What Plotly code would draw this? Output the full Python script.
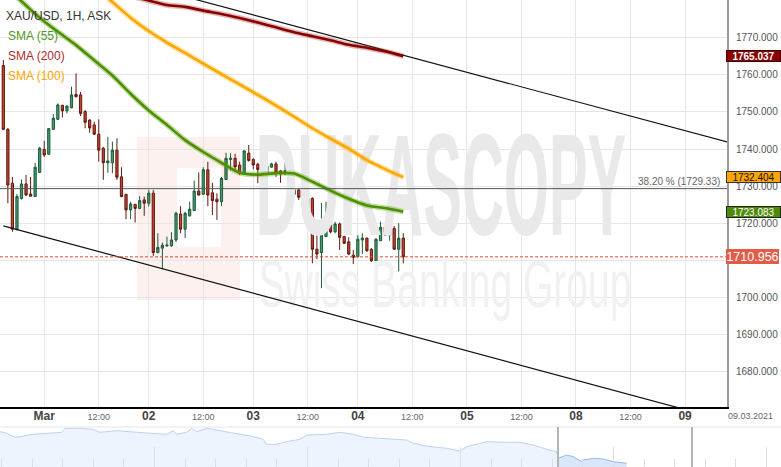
import plotly.graph_objects as go

# ---------------- data ----------------
bar_index = list(range(89))          # hourly bars, 0 = first bar on screen
opens = [1762.5, 1745.3, 1730.8, 1718.4, 1726.7, 1730.6, 1727.9, 1727.2, 1733.7, 1739.9,
         1738.6, 1745.3, 1748.0, 1751.8, 1750.3, 1751.1, 1754.7, 1754.6, 1750.1, 1747.8,
         1746.5, 1744.0, 1740.2, 1736.3, 1736.3, 1739.7, 1732.5, 1727.8, 1723.6, 1725.1,
         1724.0, 1726.3, 1725.4, 1728.1, 1712.1, 1713.3, 1713.9, 1713.9, 1715.5, 1722.5,
         1718.4, 1722.0, 1723.4, 1728.7, 1727.8, 1734.4, 1728.2, 1726.5, 1725.8, 1731.8,
         1737.2, 1737.5, 1735.7, 1733.6, 1738.9, 1737.2, 1735.9, 1734.8, 1733.3, 1735.1,
         1736.0, 1734.1, 1733.3, 1734.3, 1727.8, 1729.0, 1727.3, 1724.6, 1726.7, 1713.0,
         1712.1, 1716.4, 1719.5, 1717.7, 1719.8, 1716.4, 1715.0, 1711.4, 1711.0, 1715.5,
         1716.0, 1713.0, 1709.9, 1715.3, 1718.9, 1716.8, 1718.6, 1713.0, 1716.0]
highs = [1764.0, 1745.7, 1732.5, 1727.9, 1731.8, 1733.0, 1732.5, 1736.3, 1740.6, 1742.2,
         1745.6, 1749.4, 1752.3, 1751.9, 1751.7, 1756.8, 1760.4, 1755.4, 1750.5, 1748.0,
         1747.4, 1748.0, 1740.6, 1743.3, 1742.0, 1742.9, 1735.1, 1727.9, 1725.8, 1725.2,
         1727.3, 1727.2, 1729.0, 1729.0, 1717.3, 1714.8, 1716.4, 1717.6, 1723.1, 1724.6,
         1723.1, 1725.8, 1731.5, 1733.7, 1735.1, 1736.6, 1730.9, 1728.1, 1732.5, 1739.0,
         1738.9, 1738.7, 1736.6, 1739.7, 1741.1, 1737.5, 1736.3, 1735.1, 1736.3, 1736.3,
         1736.6, 1734.3, 1736.6, 1734.5, 1730.8, 1729.1, 1729.0, 1727.0, 1727.0, 1717.7,
         1725.5, 1725.8, 1720.2, 1720.4, 1720.2, 1716.6, 1716.2, 1712.8, 1716.8, 1717.3,
         1716.1, 1713.3, 1716.0, 1720.4, 1719.0, 1721.6, 1719.3, 1720.0, 1717.3]
lows = [1745.1, 1725.4, 1717.7, 1718.0, 1726.4, 1727.4, 1727.2, 1727.1, 1733.7, 1737.9,
        1738.5, 1745.2, 1747.8, 1748.5, 1749.6, 1751.0, 1753.9, 1748.9, 1745.6, 1744.4,
        1743.8, 1736.6, 1731.7, 1733.6, 1733.5, 1731.7, 1727.0, 1721.1, 1721.1, 1720.2,
        1723.8, 1722.0, 1724.5, 1711.2, 1711.9, 1707.6, 1713.7, 1713.7, 1715.0, 1717.3,
        1716.0, 1721.8, 1723.3, 1727.5, 1727.6, 1724.6, 1722.2, 1720.9, 1724.6, 1731.7,
        1734.2, 1734.3, 1733.0, 1733.5, 1736.6, 1734.5, 1730.8, 1731.8, 1733.0, 1735.0,
        1732.5, 1730.9, 1733.0, 1727.2, 1727.7, 1726.3, 1722.0, 1724.5, 1709.2, 1709.2,
        1702.5, 1716.3, 1717.3, 1717.3, 1712.8, 1714.4, 1711.4, 1709.0, 1710.8, 1711.7,
        1712.3, 1709.6, 1707.2, 1715.2, 1716.6, 1715.3, 1712.9, 1707.0, 1709.2]
closes = [1745.3, 1730.3, 1718.4, 1727.2, 1730.6, 1727.6, 1727.3, 1735.1, 1740.2, 1738.4,
          1745.5, 1748.3, 1751.9, 1750.3, 1751.6, 1754.6, 1754.1, 1749.6, 1747.2, 1745.7,
          1744.0, 1739.7, 1736.3, 1736.8, 1739.7, 1732.4, 1727.2, 1723.6, 1725.2, 1724.0,
          1726.1, 1725.4, 1728.1, 1712.1, 1713.5, 1714.1, 1714.1, 1715.5, 1722.7, 1718.4,
          1722.7, 1723.8, 1728.7, 1727.6, 1734.4, 1727.6, 1726.1, 1725.8, 1732.1, 1737.5,
          1737.5, 1735.2, 1733.6, 1739.5, 1736.9, 1735.7, 1734.5, 1733.3, 1735.4, 1736.0,
          1733.7, 1733.3, 1734.2, 1727.9, 1729.0, 1727.0, 1724.6, 1726.7, 1713.0, 1711.7,
          1716.8, 1719.5, 1717.7, 1719.8, 1716.2, 1714.6, 1711.7, 1710.8, 1715.7, 1716.0,
          1712.6, 1709.9, 1715.7, 1718.9, 1716.8, 1718.6, 1713.0, 1716.0, 1710.956]

sma55_idx = [0, 4, 8, 12, 16, 20, 24, 28, 32, 36, 40, 44, 48, 52, 56, 60, 64, 68, 72, 76, 80, 84, 88]
sma55_val = [1784.2, 1779.8, 1775.4, 1771.6, 1768.0, 1763.9, 1759.8, 1754.9, 1750.4, 1746.5,
             1742.4, 1739.2, 1736.3, 1733.6, 1733.1, 1733.5, 1733.4, 1731.2, 1728.8, 1726.6,
             1724.8, 1724.1, 1723.083]
sma100_idx = [20, 24, 28, 32, 36, 40, 44, 48, 52, 56, 60, 64, 68, 72, 76, 80, 84, 88]
sma100_val = [1783.8, 1779.6, 1775.4, 1771.8, 1768.7, 1765.9, 1763.0, 1760.2, 1757.4, 1754.6,
              1751.7, 1748.7, 1745.6, 1742.8, 1740.1, 1737.0, 1734.6, 1732.404]
sma200_idx = [28, 32, 36, 40, 44, 48, 52, 56, 60, 64, 68, 72, 76, 80, 84, 88]
sma200_val = [1781.2, 1780.0, 1778.8, 1778.3, 1777.3, 1776.4, 1775.3, 1774.1, 1772.8, 1771.5,
              1770.4, 1769.3, 1768.1, 1767.3, 1766.3, 1765.037]

channel_idx = [0, 160]
channel_upper = [1794.2, 1741.65]
channel_lower = [1719.3, 1666.5]

fib_level = 1729.33
fib_label = "38.20 % (1729.33)"
last_price = 1710.956

tick_idx = [9, 21, 32, 44, 55, 67, 78, 90, 102, 114, 126, 138, 150]
tick_lbl = ["Mar", "12:00", "02", "12:00", "03", "12:00", "04", "12:00", "05", "12:00", "08", "12:00", "09"]
date_label = "09.03.2021"

nav_pos_a = [0, 6.7, 15, 20, 33.3, 46.7, 61.7, 65, 80, 93.3, 100, 116.7, 133.3, 150, 166.7, 173.3,
             176.7, 186.7, 191.7, 196.7, 206.7, 216.7, 233.3, 253.3, 263.3, 266.7, 276.7, 286.7,
             300, 306.7, 326.7, 340, 353.3, 363.3, 380, 400, 406.7, 413.3, 430, 446.7, 460, 466.7,
             480, 486.7, 506.7, 520, 533.3, 546.7, 556.7]
nav_lvl_a = [35.3, 33.7, 29.7, 30.3, 32.7, 33.7, 34.7, 38.7, 38.7, 37.7, 34.7, 36.3, 34.7, 33.7,
             32.7, 36.3, 32.7, 34.7, 38.7, 35.3, 38.7, 37, 33.7, 30.3, 27.7, 22.7, 22.7, 25.3,
             27.7, 32, 32.7, 34.7, 32.7, 29.7, 28.7, 27.7, 27, 23.7, 20.3, 18.7, 16, 20.3, 23.7,
             25.3, 24.7, 24.7, 22, 17.7, 15.3]
nav_pos_b = [556.7, 558.3, 566.7, 573.3, 581.7, 583.3, 593.3, 603.3, 613.3, 620, 626.7]
nav_lvl_b = [15.3, 8.7, 12, 10.3, 5.3, 7, 8.7, 8, 5.3, 4.3, 3.7]

# ---------------- geometry / style ----------------
W, H = 781, 467
PANE_R, PANE_B, NAV_T = 727, 407, 427
X_RANGE = [-0.73, 159.23]
Y_RANGE = [1670.49, 1780.16]
FONT = "Liberation Sans, Arial, sans-serif"


def px_x(px):
    return X_RANGE[0] + px / PANE_R * (X_RANGE[1] - X_RANGE[0])


def px_y(py):
    return Y_RANGE[1] - py / PANE_B * (Y_RANGE[1] - Y_RANGE[0])


def paper_x(px):
    return px / W


def paper_y(py):
    return 1 - py / H


fig = go.Figure()

# watermark (behind everything)
fig.add_trace(go.Scatter(x=[px_x(441)], y=[px_y(190)], mode="text", text=["DUKASCOPY"],
                         textfont=dict(family=FONT, size=58, color="#e9e9e9", weight="bold"),
                         hoverinfo="skip", showlegend=False))
fig.add_trace(go.Scatter(x=[px_x(445)], y=[px_y(288)], mode="text", text=["Swiss Banking Group"],
                         textfont=dict(family=FONT, size=39, color="#f1f1f1"),
                         hoverinfo="skip", showlegend=False))

# channel lines
for vals in (channel_upper, channel_lower):
    fig.add_trace(go.Scatter(x=channel_idx, y=vals, mode="lines",
                             line=dict(color="#111111", width=1.2),
                             hoverinfo="skip", showlegend=False))

# candles
fig.add_trace(go.Candlestick(
    x=bar_index, open=opens, high=highs, low=lows, close=closes,
    increasing=dict(fillcolor="#3f9b6c", line=dict(color="#1f5a3b", width=1)),
    decreasing=dict(fillcolor="#c8412b", line=dict(color="#5e1a10", width=1)),
    whiskerwidth=0, showlegend=False, hoverinfo="skip"))

# moving averages (halo + core)
for idx, val, halo, core in ((sma200_idx, sma200_val, "rgba(150,30,30,0.30)", "#8b0000"),
                             (sma100_idx, sma100_val, "rgba(255,175,0,0.35)", "#ffa600"),
                             (sma55_idx, sma55_val, "rgba(90,160,0,0.35)", "#4e8f00")):
    fig.add_trace(go.Scatter(x=idx, y=val, mode="lines", line=dict(color=halo, width=5.5, shape="spline", smoothing=0.6),
                             hoverinfo="skip", showlegend=False))
    fig.add_trace(go.Scatter(x=idx, y=val, mode="lines", line=dict(color=core, width=2.6, shape="spline", smoothing=0.6),
                             hoverinfo="skip", showlegend=False))

# navigator
fig.add_trace(go.Scatter(x=nav_pos_a, y=nav_lvl_a, xaxis="x2", yaxis="y2", mode="lines",
                         line=dict(color="#bcd3f2", width=1), fill="tozeroy", fillcolor="#eef4fd",
                         hoverinfo="skip", showlegend=False))
fig.add_trace(go.Scatter(x=nav_pos_b, y=nav_lvl_b, xaxis="x2", yaxis="y2", mode="lines",
                         line=dict(color="#94b9ec", width=1), fill="tozeroy", fillcolor="#dae7fa",
                         hoverinfo="skip", showlegend=False))

ticktext = [t if t == "12:00" else '<span style="font-size:12px;color:#444"><b>%s</b></span>' % t
            for t in tick_lbl]

shapes = [
    # logo block of the watermark
    dict(type="rect", xref="paper", yref="paper", x0=paper_x(137), x1=paper_x(240),
         y0=paper_y(300), y1=paper_y(137), fillcolor="#fdf1f0", line=dict(width=0), layer="below"),
    dict(type="rect", xref="paper", yref="paper", x0=paper_x(177), x1=paper_x(221),
         y0=paper_y(247), y1=paper_y(168), fillcolor="#ffffff", line=dict(width=0), layer="below"),
    # fibonacci level and last price
    dict(type="line", xref="paper", yref="y", x0=0, x1=paper_x(PANE_R), y0=fib_level, y1=fib_level,
         line=dict(color="#555555", width=1)),
    dict(type="line", xref="paper", yref="y", x0=0, x1=paper_x(PANE_R), y0=last_price, y1=last_price,
         line=dict(color="#e8442c", width=1, dash="3px,2px")),
    # navigator border + handles
    dict(type="line", xref="paper", yref="paper", x0=0, x1=1, y0=paper_y(NAV_T), y1=paper_y(NAV_T),
         line=dict(color="#e6e6e6", width=1)),
    dict(type="line", xref="paper", yref="paper", x0=paper_x(558), x1=paper_x(558), y0=0, y1=paper_y(NAV_T),
         line=dict(color="#b5b5b5", width=2)),
    dict(type="line", xref="paper", yref="paper", x0=paper_x(692), x1=paper_x(692), y0=0, y1=paper_y(NAV_T),
         line=dict(color="#b5b5b5", width=2)),
]


def tag(val, text, bg, fg, border, size=10, h=10, bold=False):
    return dict(xref="paper", x=paper_x(726), xanchor="left", yref="y", y=val, yanchor="middle",
                text=("<b>%s</b>" % text) if bold else text, showarrow=False,
                font=dict(family=FONT, size=size, color=fg), bgcolor=bg, bordercolor=border,
                borderwidth=1 if border else 0, borderpad=0, width=53, height=h, align="center")


annotations = [
    dict(xref="paper", yref="paper", x=paper_x(4), y=paper_y(15.5), xanchor="left", yanchor="middle",
         text="XAU/USD, 1H, ASK", showarrow=False, font=dict(family=FONT, size=12, color="#333333")),
    dict(xref="paper", yref="paper", x=paper_x(6), y=paper_y(35.5), xanchor="left", yanchor="middle",
         text="SMA (55)", showarrow=False, font=dict(family=FONT, size=12, color="#4f9a1c")),
    dict(xref="paper", yref="paper", x=paper_x(6), y=paper_y(55.5), xanchor="left", yanchor="middle",
         text="SMA (200)", showarrow=False, font=dict(family=FONT, size=12, color="#b02a2a")),
    dict(xref="paper", yref="paper", x=paper_x(6), y=paper_y(75.5), xanchor="left", yanchor="middle",
         text="SMA (100)", showarrow=False, font=dict(family=FONT, size=12, color="#ffa500")),
    dict(xref="paper", yref="y", x=paper_x(722), y=fib_level, xanchor="right", yanchor="bottom",
         text=fib_label, showarrow=False, font=dict(family=FONT, size=10, color="#666666")),
    dict(xref="paper", yref="paper", x=paper_x(750), y=paper_y(416), xanchor="center", yanchor="middle",
         text=date_label, showarrow=False, font=dict(family=FONT, size=9, color="#666666")),
    tag(sma200_val[-1], "%.3f" % sma200_val[-1], "#8b0000", "#ffffff", "#3a0000", bold=True),
    tag(sma100_val[-1], "%.3f" % sma100_val[-1], "#ffa500", "#111111", "#333333"),
    tag(sma55_val[-1], "%.3f" % sma55_val[-1], "#4e8a06", "#ffffff", "#222222"),
    tag(last_price, "%.3f" % last_price, "#e25c48", "#ffffff", None, size=12.5, h=15),
]

fig.update_layout(
    width=W, height=H, template="none",
    margin=dict(l=0, r=0, t=0, b=0, pad=0),
    paper_bgcolor="white", plot_bgcolor="white",
    font=dict(family=FONT, size=10, color="#555555"),
    showlegend=False, hovermode=False,
    shapes=shapes, annotations=annotations,
    xaxis=dict(domain=[0, PANE_R / W], range=X_RANGE, anchor="y",
               tickmode="array", tickvals=tick_idx, ticktext=ticktext,
               tickfont=dict(family=FONT, size=9, color="#666666"),
               showgrid=True, gridcolor="#e6e6e6", gridwidth=1, zeroline=False,
               showline=True, linecolor="#000000", linewidth=2, ticks="",
               rangeslider=dict(visible=False), fixedrange=True),
    yaxis=dict(domain=[1 - PANE_B / H, 1], range=Y_RANGE, side="right", anchor="x",
               tick0=1680, dtick=10, tickformat=".3f",
               tickfont=dict(family=FONT, size=10, color="#555555"),
               showgrid=True, gridcolor="#e6e6e6", gridwidth=1, zeroline=False,
               showline=True, linecolor="#9a9a9a", linewidth=2, ticks="",
               ticklabelstandoff=5, fixedrange=True),
    xaxis2=dict(domain=[0, 1], range=[0, W], anchor="y2", showgrid=False, zeroline=False,
                showticklabels=False, showline=False,
                ticks="inside", ticklen=20, tickcolor="#dddddd", tick0=1, dtick=153,
                minor=dict(ticks="inside", ticklen=8, tickcolor="#dddddd", tick0=1.4, dtick=30.6),
                fixedrange=True),
    yaxis2=dict(domain=[0, (H - NAV_T) / H], range=[0, 40], anchor="x2", visible=False,
                fixedrange=True),
)

page_js = """
document.body.style.margin = '0';
document.body.style.overflow = 'hidden';
var k = {'DUKASCOPY': 2.5, 'Swiss Banking Group': 1.7};
document.querySelectorAll('text').forEach(function(t){
  var s = k[t.textContent];
  if (!s) return;
  var b = t.getBBox();
  var cy = b.y + b.height / 2;
  t.setAttribute('transform', 'translate(0,' + cy + ') scale(1,' + s + ') translate(0,' + (-cy) + ')');
});
"""

fig.write_html("out.html", config={"displayModeBar": False, "staticPlot": True}, post_script=page_js)
